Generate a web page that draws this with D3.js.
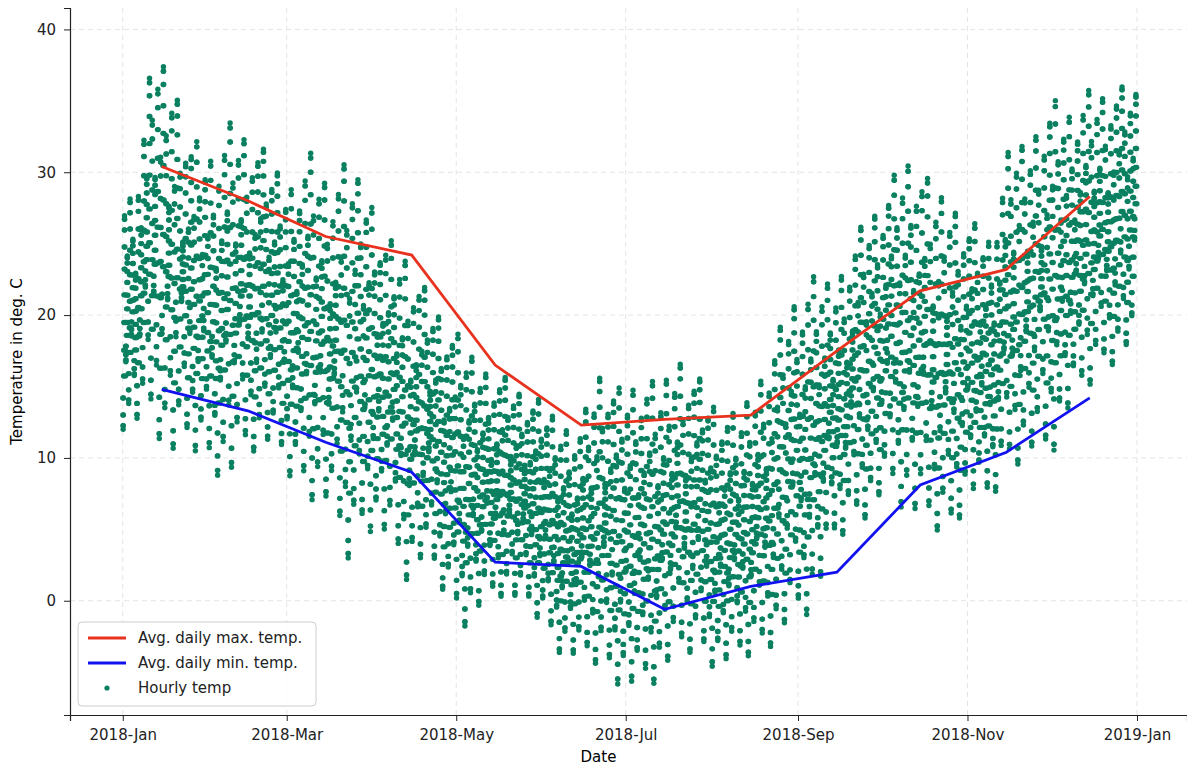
<!DOCTYPE html>
<html>
<head>
<meta charset="utf-8">
<script src="https://cdn.jsdelivr.net/npm/d3@7"></script>
<style>
body { margin: 0; background: #fff; }
text { font-family: "DejaVu Sans", sans-serif; }
</style>
</head>
<body>
<svg id="chart" width="1187" height="767"></svg>
<script>
// monthly averages (mid-month)
var months = ['2018-01-15','2018-02-15','2018-03-15','2018-04-15','2018-05-15','2018-06-15',
              '2018-07-15','2018-08-15','2018-09-15','2018-10-15','2018-11-15','2018-12-15'];
var avgMax = [30.4, 28.0, 25.5, 24.2, 16.5, 12.3, 12.7, 13.0, 17.5, 21.7, 23.2, 28.3];
var avgMin = [14.8, 13.3, 11.1, 9.0, 2.7, 2.4, -0.6, 1.0, 2.0, 8.1, 10.4, 14.2];

// weekly envelope of hourly readings
var weekHigh = [29,39,38,33, 32,34,33,31, 30,32,30,31, 30,26,25,22, 20,18,17,16, 15,14,13,13,
                17,15,16,15, 18,16,14,13, 16,19,22,23, 23,26,28,30, 32,29,29,27, 26,32,33,36, 35,36,36,36];
var weekLow  = [12,12,9,10, 9,8,10,10, 8,7,6,2, 5,4,1,2, 0,-2,-1,0, -1,-2,-4,-5,
                -5,-6,-7,-6, -5,-4,-5,-5, -4,-3,-2,-1, 3,5,6,7, 5,4,4,7, 6,9,10,9, 12,14,16,17];
var yTicks = [0, 10, 20, 30, 40];
var xTicks = ['2018-01-01','2018-03-01','2018-05-01','2018-07-01','2018-09-01','2018-11-01','2019-01-01'];

var parse = d3.timeParse('%Y-%m-%d');
var svg = d3.select('#chart');
var m = {l: 70, r: 0, t: 8, b: 52};
var W = 1187, H = 767;

var x = d3.scaleTime()
    .domain([d3.timeDay.offset(parse('2018-01-01'), -18.7), d3.timeDay.offset(parse('2019-01-01'), 18)])
    .range([m.l, W - m.r]);
var y = d3.scaleLinear().domain([-8, 41.5]).range([H - m.b, m.t]);

// grid
svg.append('g').selectAll('line').data(xTicks).enter().append('line')
    .attr('x1', function(d) { return x(parse(d)); }).attr('x2', function(d) { return x(parse(d)); })
    .attr('y1', m.t).attr('y2', H - m.b)
    .attr('stroke', '#e4e4e4').attr('stroke-dasharray', '5,4');
svg.append('g').selectAll('line').data(yTicks).enter().append('line')
    .attr('x1', m.l).attr('x2', W)
    .attr('y1', function(d) { return y(d); }).attr('y2', function(d) { return y(d); })
    .attr('stroke', '#e4e4e4').attr('stroke-dasharray', '5,4');

// hourly points: daily cycle inside the weekly envelope
var hourly = [];
var start = parse('2018-01-01');
var highAt = d3.scaleLinear().domain(d3.range(weekHigh.length).map(function(i) { return i * 7 + 3.5; })).range(weekHigh).clamp(true);
var lowAt = d3.scaleLinear().domain(d3.range(weekLow.length).map(function(i) { return i * 7 + 3.5; })).range(weekLow).clamp(true);
function frac(v) { return v - Math.floor(v); }
for (var day = 0; day < 365; day++) {
    var hi = highAt(day), lo = lowAt(day), span = hi - lo;
    var dmin = lo + span * 0.45 * frac(day * 0.6180339);
    var dmax = hi - span * 0.4 * frac(day * 0.4142136 + 0.3);
    if (dmax < dmin + 4) { var c = (dmax + dmin) / 2; dmax = c + 2; dmin = c - 2; }
    for (var hr = 0; hr < 24; hr++) {
        var k = 0.5 + 0.5 * Math.sin(2 * Math.PI * (hr - 9) / 24);
        hourly.push({t: d3.timeHour.offset(start, day * 24 + hr), v: dmin + (dmax - dmin) * k});
    }
}
svg.append('g').selectAll('circle').data(hourly).enter().append('circle')
    .attr('cx', function(d) { return x(d.t); })
    .attr('cy', function(d) { return y(d.v); })
    .attr('r', 2.7)
    .attr('fill', '#0a8060');

var line = d3.line().x(function(d) { return x(parse(d[0])); }).y(function(d) { return y(d[1]); });
svg.append('path').datum(d3.zip(months, avgMax)).attr('d', line)
    .attr('fill', 'none').attr('stroke', '#e8321e').attr('stroke-width', 2.8);
svg.append('path').datum(d3.zip(months, avgMin)).attr('d', line)
    .attr('fill', 'none').attr('stroke', '#1212f0').attr('stroke-width', 2.8);

// axes
var xAxis = d3.axisBottom(x).tickValues(xTicks.map(parse)).tickFormat(d3.timeFormat('%Y-%b')).tickSizeOuter(0).tickSize(6).tickPadding(8);
var gx = svg.append('g').attr('transform', 'translate(0,' + (H - m.b) + ')').call(xAxis);
var yAxis = d3.axisLeft(y).tickValues(yTicks).tickSizeOuter(0).tickSize(6).tickPadding(8);
var gy = svg.append('g').attr('transform', 'translate(' + m.l + ',0)').call(yAxis);
[gx, gy].forEach(function(g) {
    g.selectAll('text').attr('font-size', 15).attr('fill', '#222');
    g.selectAll('line,path').attr('stroke', '#222');
});
gx.select('.domain').attr('stroke-width', 1.2);
gy.select('.domain').attr('stroke-width', 1.2);

svg.append('text').attr('x', (m.l + W) / 2 - 30).attr('y', 762).attr('text-anchor', 'middle')
    .attr('font-size', 15).text('Date');
svg.append('text').attr('transform', 'translate(22,' + ((m.t + H - m.b) / 2) + ') rotate(-90)')
    .attr('text-anchor', 'middle').attr('font-size', 15).text('Temperature in deg. C');

// legend
var lg = svg.append('g').attr('transform', 'translate(78,622)');
lg.append('rect').attr('width', 238).attr('height', 84).attr('rx', 4)
    .attr('fill', '#fff').attr('fill-opacity', 0.85).attr('stroke', '#ccc');
var items = [['Avg. daily max. temp.', '#e8321e', 'line'], ['Avg. daily min. temp.', '#1212f0', 'line'], ['Hourly temp', '#0a8060', 'dot']];
items.forEach(function(it, i) {
    var yy = 16 + i * 25;
    if (it[2] === 'line') {
        lg.append('line').attr('x1', 10).attr('x2', 48).attr('y1', yy).attr('y2', yy)
            .attr('stroke', it[1]).attr('stroke-width', 2.8);
    } else {
        lg.append('circle').attr('cx', 29).attr('cy', yy).attr('r', 2.6).attr('fill', it[1]);
    }
    lg.append('text').attr('x', 60).attr('y', yy + 5).attr('font-size', 15).attr('fill', '#222').text(it[0]);
});
</script>
</body>
</html>
